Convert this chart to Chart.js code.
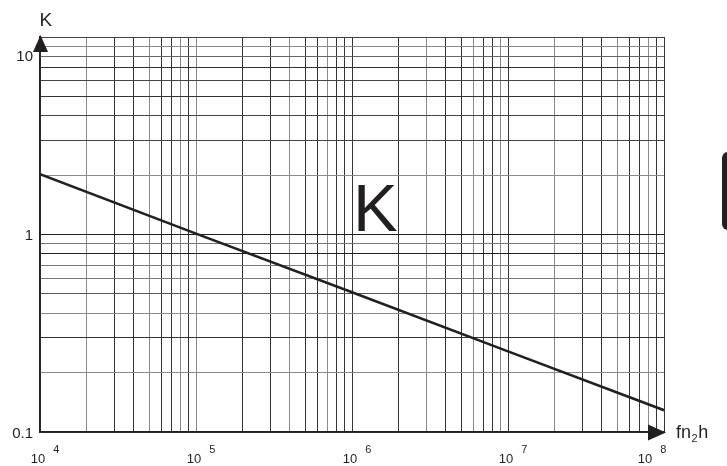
<!DOCTYPE html>
<html>
<head>
<meta charset="utf-8">
<script src="https://cdn.jsdelivr.net/npm/chart.js@4.4.1/dist/chart.umd.min.js"></script>
<style>
  html, body { margin: 0; padding: 0; background: #fff; }
  canvas { display: block; }
</style>
</head>
<body>
<canvas id="c" width="727" height="466"></canvas>
<script>
// ---- data ----
const xValues = [1e4, 1e5, 1e6, 1e7, 1e8];          // fn2h
const kValues = [2.02, 1.01, 0.51, 0.256, 0.129];    // K
const xTickBases = ['10', '10', '10', '10', '10'];
const xTickExponents = ['4', '5', '6', '7', '8'];
const yTickValues = [0.1, 1, 10];
const yTickLabels = ['0.1', '1', '10'];
const xAxisTitle = 'fn';
const xAxisTitleSub = '2';
const xAxisTitleEnd = 'h';
const yAxisTitle = 'K';
const curveLabel = 'K';

// ---- grid tick values (1..9 per decade) ----
const significands = [1, 2, 3, 4, 5, 6, 7, 8, 9];
const xDecades = [4, 5, 6, 7];
const yDecades = [-1, 0];
function decadeTicks(decades, lastExp) {
  const out = [];
  decades.forEach(e => significands.forEach(s => out.push(parseFloat((s * Math.pow(10, e)).toPrecision(6)))));
  out.push(Math.pow(10, lastExp));
  return out;
}
const xGridTicks = decadeTicks(xDecades, 8);
const yGridTicks = decadeTicks(yDecades, 1);

// ---- styles ----
const INK = '#231f20';
const yGridColors = {
  '0.2': '#8a8a8a', '0.3': '#333', '0.4': '#8a8a8a', '0.5': '#555', '0.6': '#777',
  '0.7': '#777', '0.8': '#222', '0.9': '#777', '1': '#222', '2': '#8a8a8a', '3': '#444',
  '4': '#444', '5': '#333', '6': '#444', '7': '#333', '8': '#666', '9': '#8a8a8a', '10': '#444'
};
function sigExp(v) {
  const e = Math.floor(Math.log10(v) + 1e-9);
  return [Math.round(v / Math.pow(10, e)), e];
}
function xGridColor(v) {
  const [s, e] = sigExp(v);
  if (e === 8) return '#333';
  return ((s + e) % 3 === 0) ? '#8a8a8a' : '#333';
}

const decorPlugin = {
  id: 'decor',
  afterDraw(chart) {
    const ctx = chart.ctx;
    const xs = chart.scales.x, ys = chart.scales.y;
    const a = chart.chartArea;
    ctx.save();
    ctx.fillStyle = INK;

    // y axis arrow
    ctx.beginPath();
    ctx.moveTo(a.left + 0.5, a.top - 2);
    ctx.lineTo(a.left + 0.5 - 7.5, a.top + 15);
    ctx.lineTo(a.left + 0.5 + 7.5, a.top + 15);
    ctx.closePath();
    ctx.fill();

    // x axis arrow
    ctx.beginPath();
    ctx.moveTo(a.right + 2, a.bottom + 0.5);
    ctx.lineTo(a.right - 16, a.bottom + 0.5 - 8);
    ctx.lineTo(a.right - 16, a.bottom + 0.5 + 8);
    ctx.closePath();
    ctx.fill();

    // y tick labels
    ctx.font = '15px "Liberation Sans", Arial, sans-serif';
    ctx.textAlign = 'right';
    ctx.textBaseline = 'alphabetic';
    yTickValues.forEach((v, i) => {
      let y = ys.getPixelForValue(v) + 5.5;
      if (i === yTickValues.length - 1) y = a.top + 24;
      ctx.fillText(yTickLabels[i], 33, y);
    });

    // x tick labels with superscripts
    xValues.forEach((v, i) => {
      let cx = xs.getPixelForValue(v) - 2;
      if (i === xValues.length - 1) cx = xs.getPixelForValue(v) - 19;
      ctx.font = '13px "Liberation Sans", Arial, sans-serif';
      ctx.textAlign = 'center';
      ctx.fillText(xTickBases[i], cx, 463);
      const w = ctx.measureText(xTickBases[i]).width;
      ctx.font = '11px "Liberation Sans", Arial, sans-serif';
      ctx.textAlign = 'left';
      ctx.fillText(xTickExponents[i], cx + w / 2 + 8, 453);
    });

    // axis titles
    ctx.textAlign = 'left';
    ctx.font = '19px "Liberation Sans", Arial, sans-serif';
    ctx.fillText(yAxisTitle, 39.5, 25.5);

    ctx.font = '18px "Liberation Sans", Arial, sans-serif';
    let tx = 676;
    ctx.fillText(xAxisTitle, tx, 438);
    tx += ctx.measureText(xAxisTitle).width;
    ctx.font = '11px "Liberation Sans", Arial, sans-serif';
    ctx.fillText(xAxisTitleSub, tx + 0.5, 442);
    tx += ctx.measureText(xAxisTitleSub).width + 1;
    ctx.font = '18px "Liberation Sans", Arial, sans-serif';
    ctx.fillText(xAxisTitleEnd, tx, 438);

    // big curve label
    ctx.font = '67px "Liberation Sans", Arial, sans-serif';
    ctx.fillText(curveLabel, 353, 231);

    // dark tab at right edge
    ctx.beginPath();
    if (ctx.roundRect) ctx.roundRect(722, 152, 20, 78, 6);
    else ctx.rect(722, 152, 20, 78);
    ctx.fill();

    ctx.restore();
  }
};

new Chart(document.getElementById('c'), {
  type: 'line',
  data: {
    datasets: [{
      label: curveLabel,
      data: xValues.map((x, i) => ({ x: x, y: kValues[i] })),
      borderColor: INK,
      borderWidth: 2.6,
      pointRadius: 0,
      tension: 0,
      fill: false
    }]
  },
  options: {
    responsive: false,
    devicePixelRatio: 1,
    animation: false,
    events: [],
    layout: { padding: { left: 40, right: 63, top: 37, bottom: 34 } },
    plugins: { legend: { display: false }, tooltip: { enabled: false } },
    scales: {
      x: {
        type: 'logarithmic',
        min: 1e4, max: 1e8,
        afterBuildTicks: s => { s.ticks = xGridTicks.map(v => ({ value: v })); },
        afterFit: s => { s.height = 0; },
        ticks: { display: false },
        grid: {
          drawTicks: false,
          lineWidth: 1,
          color: c => xGridColor(c.tick.value)
        },
        border: { display: true, color: INK, width: 1.5 }
      },
      y: {
        type: 'logarithmic',
        min: 0.1, max: 10,
        afterBuildTicks: s => { s.ticks = yGridTicks.map(v => ({ value: v })); },
        afterFit: s => { s.width = 0; },
        ticks: { display: false },
        grid: {
          drawTicks: false,
          lineWidth: 1,
          color: c => yGridColors[String(c.tick.value)] || '#333'
        },
        border: { display: true, color: INK, width: 1.5 }
      }
    }
  },
  plugins: [decorPlugin]
});
</script>
</body>
</html>
